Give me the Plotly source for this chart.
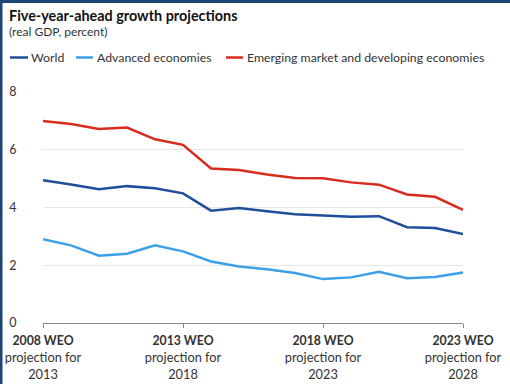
import plotly.graph_objects as go

years = list(range(2008, 2024))
world = [4.94, 4.80, 4.63, 4.74, 4.67, 4.49, 3.89, 3.98, 3.87, 3.77, 3.72, 3.68, 3.70, 3.32, 3.29, 3.08]
advanced = [2.90, 2.69, 2.33, 2.40, 2.69, 2.48, 2.13, 1.96, 1.86, 1.73, 1.52, 1.58, 1.77, 1.55, 1.59, 1.75]
emerging = [7.00, 6.89, 6.72, 6.77, 6.36, 6.17, 5.35, 5.30, 5.14, 5.02, 5.01, 4.87, 4.79, 4.45, 4.37, 3.92]

tick_vals = [2008, 2013, 2018, 2023]
tick_line1 = ["2008 WEO", "2013 WEO", "2018 WEO", "2023 WEO"]
tick_line2 = ["projection for"] * 4
tick_line3 = ["2013", "2018", "2023", "2028"]

names = ["World", "Advanced economies", "Emerging market and developing economies"]
colors = ["#1f4e9a", "#3ba0e6", "#d92b1e"]
values = [world, advanced, emerging]

FONT = "Lato"
W, H = 510, 384
L, R, T, B = 43, 47, 92, 61
pw, ph = W - L - R, H - T - B


def px(x):
    return (x - L) / pw


def py(y):
    return (H - B - y) / ph


fig = go.Figure()
for name, vals, col in zip(names, values, colors):
    fig.add_trace(go.Scatter(x=years, y=vals, mode="lines", name=name,
                             line=dict(color=col, width=2.5), showlegend=False))

navy = "#1d4677"
shapes = [
    dict(type="rect", xref="paper", yref="paper", x0=px(0), x1=px(2.5),
         y0=py(H), y1=py(0), fillcolor=navy, line_width=0, layer="above"),
    dict(type="rect", xref="paper", yref="paper", x0=px(0), x1=px(W),
         y0=py(3), y1=py(0), fillcolor=navy, line_width=0, layer="above"),
]

annotations = [
    dict(text="<b>Five-year-ahead growth projections</b>", xref="paper", yref="paper",
         x=px(7), y=py(15.5), xanchor="left", yanchor="middle",
         showarrow=False, font=dict(size=14.4, family=FONT, color="#111111")),
    dict(text="(real GDP, percent)", xref="paper", yref="paper",
         x=px(7), y=py(32), xanchor="left", yanchor="middle",
         showarrow=False, font=dict(size=12, family=FONT, color="#333333")),
]

# legend (swatch + label), laid out like the original
leg_line_x = [(10, 28), (76, 93), (226, 243)]
leg_text_x = [29, 95, 245]
leg_y = 57.5
for name, col, (a, b), tx in zip(names, colors, leg_line_x, leg_text_x):
    shapes.append(dict(type="line", xref="paper", yref="paper", x0=px(a), x1=px(b),
                       y0=py(leg_y), y1=py(leg_y), line=dict(color=col, width=2.5)))
    annotations.append(dict(text=name, xref="paper", yref="paper", x=px(tx), y=py(leg_y),
                            xanchor="left", yanchor="middle", showarrow=False,
                            font=dict(size=12.3, family=FONT, color="#333333")))

tick_text = ["<b><span style='font-size:12.3px'>%s</span></b><br>%s<br>%s" % (a, b, c)
             for a, b, c in zip(tick_line1, tick_line2, tick_line3)]

fig.update_layout(
    width=W, height=H,
    margin=dict(l=L, r=R, t=T, b=B, autoexpand=False),
    paper_bgcolor="white", plot_bgcolor="white",
    font=dict(family=FONT, color="#333333", size=12.5),
    shapes=shapes,
    annotations=annotations,
    showlegend=False,
    xaxis=dict(range=[2008, 2023], tickvals=tick_vals, ticktext=tick_text,
               showgrid=False, zeroline=False, showline=False, automargin=False,
               ticks="outside", ticklen=4, tickcolor="#888888", tickwidth=1,
               ticklabelstandoff=2,
               tickfont=dict(size=12.8, color="#333333", family=FONT)),
    yaxis=dict(range=[0, 8], tickvals=[0, 2, 4, 6, 8], showgrid=True, automargin=False,
               gridcolor="#e6e6e6", gridwidth=1, zeroline=True, zerolinecolor="#888888",
               zerolinewidth=1, showline=False, ticks="outside", ticklen=23,
               tickcolor="rgba(0,0,0,0)",
               tickfont=dict(size=12.5, color="#333333", family=FONT)),
)

fig.write_html("out.html", config={"displayModeBar": False},
               post_script="document.body.style.margin='0px';document.body.style.overflow='hidden';")
